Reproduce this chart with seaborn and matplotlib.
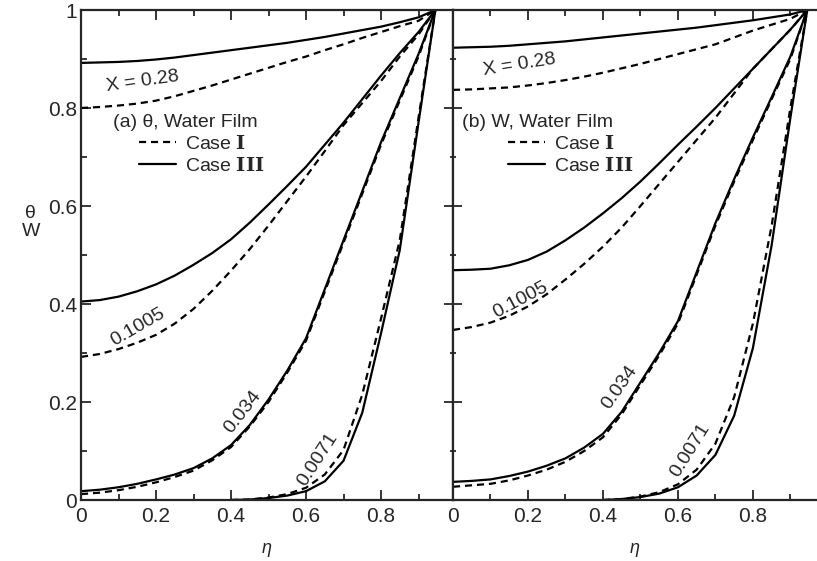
import matplotlib
matplotlib.use("Agg")
import matplotlib.pyplot as plt
import seaborn as sns
from matplotlib.ticker import MultipleLocator

sns.set_style("ticks")
plt.rcParams['font.family'] = ['Liberation Sans', 'DejaVu Sans']
plt.rcParams['mathtext.fontset'] = 'dejavuserif'

# eta grids
eta = [0, 0.05, 0.1, 0.15, 0.2, 0.25, 0.3, 0.35, 0.4, 0.45, 0.5,
       0.55, 0.6, 0.65, 0.7, 0.75, 0.8, 0.85, 0.9, 0.945]
eta_steep = [0.4, 0.45, 0.5, 0.55, 0.6, 0.65, 0.7, 0.75, 0.8, 0.85, 0.9, 0.945]

# (a) theta, water film  (c1 = Case I dashed, c3 = Case III solid)
th_028_c1 = [.80, .802, .805, .809, .815, .824, .835, .846, .858, .870,
             .882, .894, .905, .918, .93, .943, .955, .967, .978, 1.0]
th_028_c3 = [.892, .893, .894, .896, .899, .903, .908, .913, .918, .923,
             .928, .933, .939, .945, .952, .959, .966, .975, .985, 1.0]
th_1005_c1 = [.292, .298, .308, .321, .337, .36, .39, .427, .468, .512,
              .56, .61, .66, .712, .765, .81, .855, .905, .95, 1.0]
th_1005_c3 = [.405, .408, .415, .426, .44, .458, .48, .504, .532, .566,
              .603, .641, .68, .725, .77, .818, .866, .912, .955, 1.0]
th_034_c1 = [.012, .015, .02, .027, .036, .047, .06, .081, .108, .15,
             .2, .26, .325, .425, .525, .625, .725, .815, .905, 1.0]
th_034_c3 = [.018, .021, .026, .033, .042, .052, .065, .085, .112, .153,
             .205, .264, .33, .43, .53, .63, .73, .82, .91, 1.0]
th_0071_c1 = [0, .001, .005, .012, .025, .052, .102, .215, .37, .53, .78, 1.0]
th_0071_c3 = [0, .001, .004, .009, .018, .038, .08, .178, .34, .51, .77, 1.0]

# (b) W, water film
w_028_c1 = [.837, .838, .84, .842, .846, .851, .857, .864, .872, .881,
            .89, .9, .91, .92, .93, .944, .958, .97, .982, 1.0]
w_028_c3 = [.923, .924, .925, .927, .93, .933, .936, .94, .944, .948,
            .952, .956, .96, .964, .969, .974, .979, .985, .991, 1.0]
w_1005_c1 = [.347, .353, .362, .376, .395, .42, .45, .482, .517, .556,
             .6, .645, .69, .735, .78, .83, .88, .92, .96, 1.0]
w_1005_c3 = [.469, .47, .472, .479, .49, .507, .53, .556, .585, .616,
             .65, .687, .725, .762, .8, .84, .88, .92, .96, 1.0]
w_034_c1 = [.027, .03, .033, .04, .05, .062, .078, .1, .128, .175,
            .235, .295, .36, .46, .56, .65, .735, .818, .9, 1.0]
w_034_c3 = [.037, .039, .042, .049, .058, .07, .085, .107, .135, .18,
            .24, .3, .365, .465, .565, .655, .74, .822, .905, 1.0]
w_0071_c1 = [0, .002, .007, .016, .032, .062, .115, .21, .36, .56, .8, 1.0]
w_0071_c3 = [0, .002, .006, .013, .026, .05, .092, .172, .31, .52, .78, 1.0]

x_labels = ["X = 0.28", "0.1005", "0.034", "0.0071"]
yticks = [0, 0.2, 0.4, 0.6, 0.8, 1]
ytick_labels = ["0", "0.2", "0.4", "0.6", "0.8", "1"]
xticks = [0, 0.2, 0.4, 0.6, 0.8]
xtick_labels = ["0", "0.2", "0.4", "0.6", "0.8"]

DASH = (0, (3.2, 2.2))
LW = 1.6

fig = plt.figure(figsize=(8.17, 5.61), dpi=100)
axa = fig.add_axes([81 / 817, 61 / 561, 372 / 817, 490 / 561])
axb = fig.add_axes([453 / 817, 61 / 561, 364 / 817, 490 / 561])


def draw(ax, curves):
    for i, (c1, c3) in enumerate(curves):
        xs = eta_steep if len(c1) == len(eta_steep) else eta
        sns.lineplot(x=xs, y=c1, ax=ax, color="black", lw=LW, linestyle=DASH,
                     label=r"Case $\mathbf{I}$" if i == 0 else None, legend=False)
        sns.lineplot(x=xs, y=c3, ax=ax, color="black", lw=LW,
                     label=r"Case $\mathbf{III}$" if i == 0 else None, legend=False)


draw(axa, [(th_028_c1, th_028_c3), (th_1005_c1, th_1005_c3),
           (th_034_c1, th_034_c3), (th_0071_c1, th_0071_c3)])
draw(axb, [(w_028_c1, w_028_c3), (w_1005_c1, w_1005_c3),
           (w_034_c1, w_034_c3), (w_0071_c1, w_0071_c3)])

axa.set_xlim(0, 0.992)
axb.set_xlim(0, 0.971)
for ax in (axa, axb):
    ax.set_ylim(0, 1)
    ax.set_xticks(xticks)
    ax.set_xticklabels(xtick_labels)
    ax.xaxis.set_minor_locator(MultipleLocator(0.1))
    ax.yaxis.set_minor_locator(MultipleLocator(0.1))
    ax.set_yticks(yticks)
    ax.tick_params(axis="x", which="both", direction="in", top=True, bottom=True,
                   labelsize=15, pad=5, width=1.3)
    ax.tick_params(axis="x", which="major", length=7)
    ax.tick_params(axis="x", which="minor", length=4.5)
    for s in ax.spines.values():
        s.set_linewidth(1.6)
    ax.set_xlabel("η", fontsize=13, style="italic", labelpad=10)

axa.set_yticklabels(ytick_labels)
axa.tick_params(axis="y", which="both", direction="in", right=False,
                labelsize=15, pad=3, width=1.3)
axa.tick_params(axis="y", which="major", length=7)
axa.tick_params(axis="y", which="minor", length=4.5)
axa.set_ylabel("θ\nW", rotation=0, fontsize=14, linespacing=1.1)
axa.yaxis.set_label_coords(-0.135, 0.53)

axb.tick_params(axis="y", which="both", direction="inout", labelleft=False,
                right=False, width=1.3)
axb.tick_params(axis="y", which="major", length=13)
axb.tick_params(axis="y", which="minor", length=5)
axb.spines["right"].set_visible(False)

# curve labels: (eta, value, rotation)
pos_a = [(0.165, 0.855, 8), (0.152, 0.353, 30), (0.432, 0.18, 52), (0.632, 0.082, 57)]
pos_b = [(0.178, 0.888, 9), (0.179, 0.408, 28), (0.445, 0.229, 55), (0.632, 0.102, 58)]
for ax, pos in ((axa, pos_a), (axb, pos_b)):
    for lab, (x, y, r) in zip(x_labels, pos):
        ax.text(x, y, lab, rotation=r, rotation_mode="anchor", ha="center",
                va="center", fontsize=14)

# panel titles and legends
for ax, title, tx, anchor in ((axa, "(a) θ, Water Film", 0.085, (0.155, 0.745)),
                              (axb, "(b) W, Water Film", 0.025, (0.15, 0.745))):
    ax.text(tx, 0.77, title, fontsize=14, va="center", ha="left")
    ax.legend(loc="upper left", bbox_to_anchor=anchor, frameon=False,
              fontsize=14, handlelength=1.9, handletextpad=0.5,
              labelspacing=0.2, borderpad=0.0, borderaxespad=0.0)

fig.savefig("out.png", dpi=100)
